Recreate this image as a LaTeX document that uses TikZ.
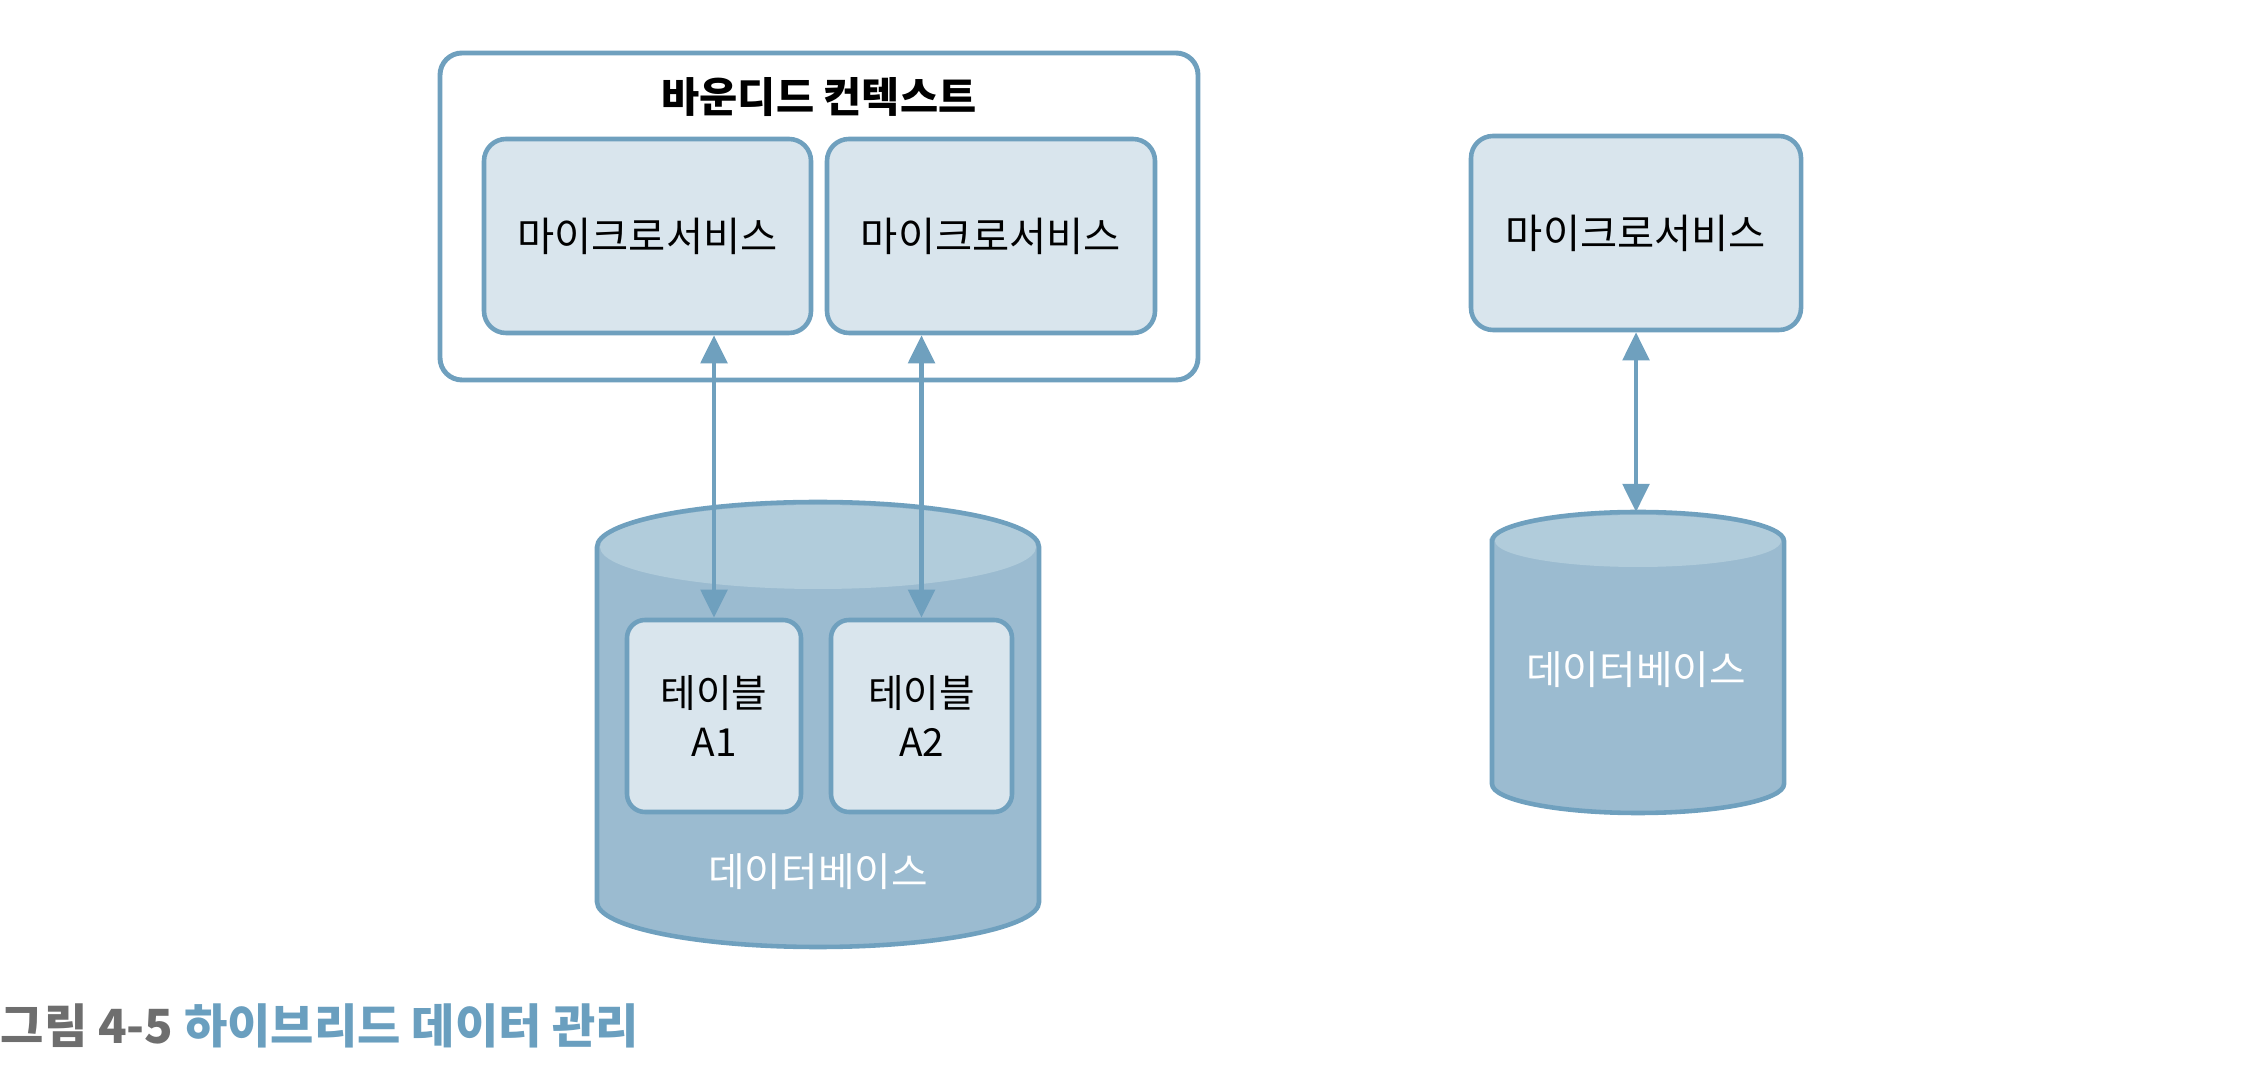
\documentclass[tikz,border=0pt]{standalone}
\usepackage{fontspec}
\setmainfont{Noto Sans CJK KR}
\usepackage {tikz}
\usetikzlibrary {positioning}
\usetikzlibrary{calc,arrows.meta}
\definecolor{lineblue}{HTML}{6FA0BE}
\definecolor{boxfill}{HTML}{D9E5ED}
\definecolor{dbbody}{HTML}{9BBBD0}
\definecolor{dbtop}{HTML}{B1CCDB}
\definecolor{capgray}{HTML}{6E6E6E}
\definecolor{capblue}{HTML}{6A9FBF}

\begin{document}
\begin{tikzpicture}[ctx node/.style={shape=rectangle,draw=lineblue,line width=1.4pt,rounded corners=0.22cm,fill=white},
	ms node/.style={shape=rectangle,draw=lineblue,line width=1.3pt,rounded corners=0.22cm,fill=boxfill,inner sep=0,font=\fontsize{11.5}{13}\selectfont},
	tbl node/.style={ms node,rounded corners=0.18cm,align=center,font=\fontsize{11}{14}\selectfont},
	db label/.style={text=white,font=\fontsize{11.3}{13}\selectfont},
	db line/.style={draw=lineblue,line width=1.3pt},
	link/.style={draw=lineblue,line width=1.3pt,>={Triangle[width=7.5pt,length=8pt]},<->}, ]
		\useasboundingbox (0,0) rectangle (22.5,-10.78);
		%bounded context + services
		\node[ctx node,minimum width=7.58cm,minimum height=3.27cm] (bc) at (8.19,-2.165){};
		\node[font=\fontsize{11.8}{14}\selectfont\bfseries] (bcTitle) at (8.19,-0.97){바운디드 컨텍스트};
		\node[ms node,minimum width=3.27cm,minimum height=1.94cm] (ms1) at (6.475,-2.36){마이크로서비스};
		\node[ms node,minimum width=3.28cm,minimum height=1.94cm] (ms2) at (9.91,-2.36){마이크로서비스};
		\node[ms node,minimum width=3.30cm,minimum height=1.94cm] (ms3) at (16.36,-2.33){마이크로서비스};
		%databases: body, lighter top, outline
		\foreach \cx/\rx/\ty/\by/\ry in {8.18/2.21/-5.47/-9.02/0.45, 16.38/1.46/-5.41/-7.84/0.29}
		{
			\fill[dbbody] (\cx-\rx,\ty) -- (\cx-\rx,\by) arc[start angle=180,end angle=360,x radius=\rx,y radius=\ry] -- (\cx+\rx,\ty) arc[start angle=0,end angle=180,x radius=\rx,y radius=\ry] -- cycle;
			\fill[dbtop] (\cx,\ty) ellipse[x radius=\rx-0.03,y radius=\ry-0.03];
			\path[db line] (\cx-\rx,\ty) -- (\cx-\rx,\by) arc[start angle=180,end angle=360,x radius=\rx,y radius=\ry] -- (\cx+\rx,\ty) arc[start angle=0,end angle=180,x radius=\rx,y radius=\ry] -- cycle;
		}
		\coordinate (db2top) at (16.38,-5.12);
		\node[db label] (db1) at (8.18,-8.72){데이터베이스};
		\node[db label] (db2) at (16.36,-6.70){데이터베이스};
		\node[tbl node,minimum width=1.74cm,minimum height=1.92cm] (tA1) at (7.14,-7.16){테이블\\A1};
		\node[tbl node,minimum width=1.81cm,minimum height=1.92cm] (tA2) at (9.215,-7.16){테이블\\A2};
		%links
		\draw[link] (tA1.north |- ms1.south) -- (tA1.north);
		\draw[link] (tA2.north |- ms2.south) -- (tA2.north);
		\draw[link] (db2top -| ms3.south) -- (ms3.south);
		%caption
		\node[anchor=west,inner sep=0,font=\fontsize{13.4}{15}\selectfont\bfseries] (cap) at (0,-10.26){\textcolor{capgray}{그림 4-5} \textcolor{capblue}{하이브리드 데이터 관리}};
		\end{tikzpicture}
\end{document}
